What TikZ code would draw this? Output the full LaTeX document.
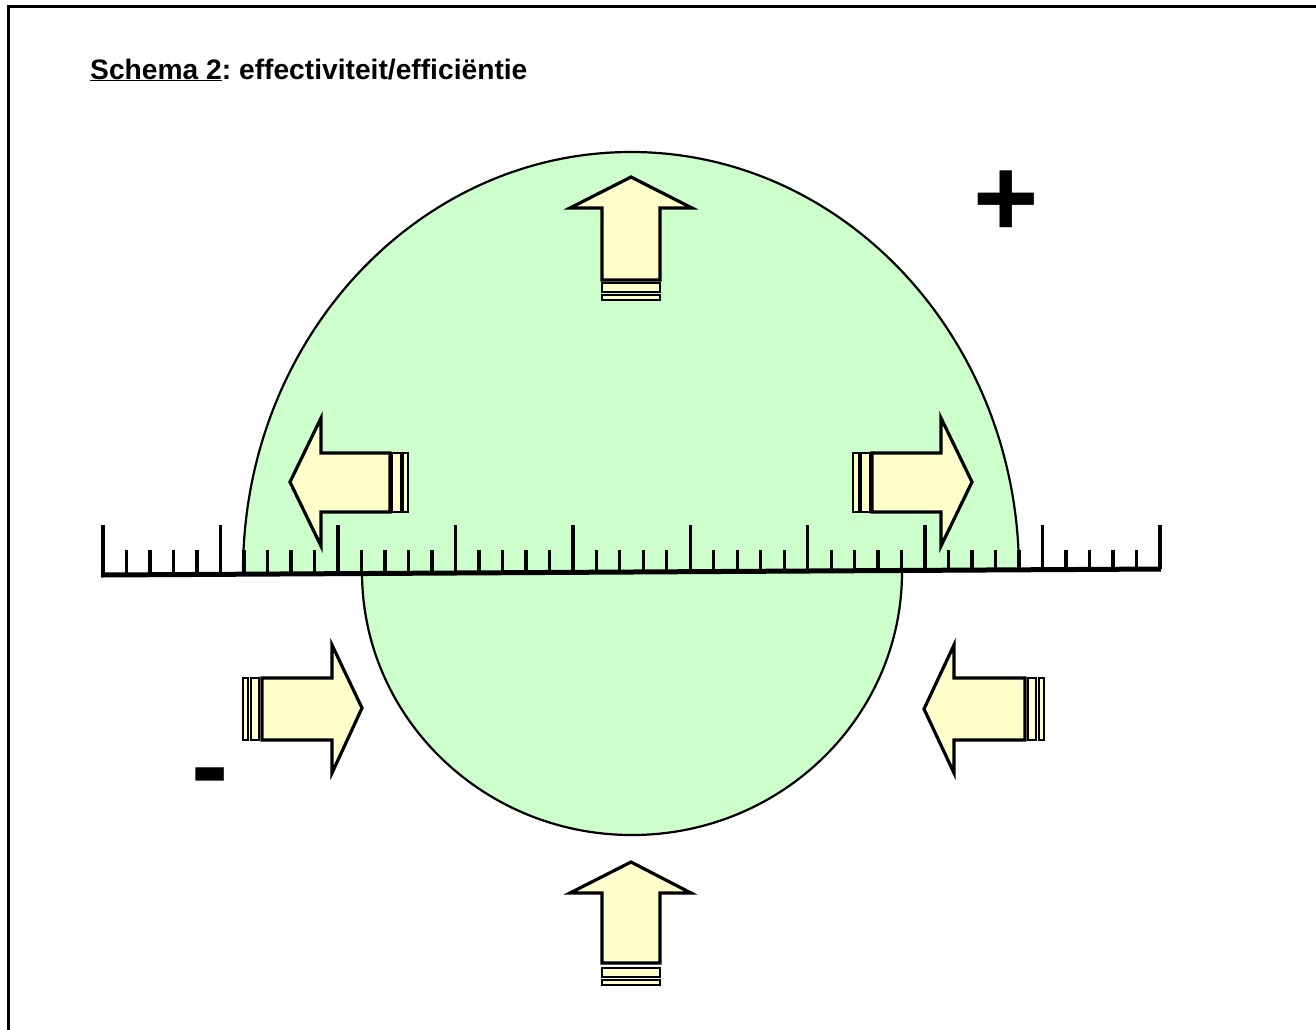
\documentclass[tikz,border=0pt]{standalone}
\usepackage{fontspec}
\setmainfont[Ligatures=NoCommon]{Liberation Sans}
\definecolor{shapegreen}{HTML}{CCFFCC}
\definecolor{arrowyellow}{HTML}{FFFFCC}
\frenchspacing
\begin{document}
\begin{tikzpicture}[x=1pt,y=-1pt,
  arrowbody/.style={fill=arrowyellow, draw=black, line width=3.2pt, line join=miter},
  arrowbar/.style={fill=arrowyellow, draw=black, line width=2pt},
  tick/.style={line width=3.4pt},
  sign/.style={inner sep=0pt, font=\fontsize{112}{112}\selectfont\bfseries}]
\useasboundingbox (0,0) rectangle (1316,1029);
\fill[white] (0,0) rectangle (1316,1029);
% frame
\draw[line width=3pt] (8,1040) -- (8,6) -- (1330,6);
% title
\node[anchor=base west, inner sep=0pt, font=\fontsize{28.2}{34}\selectfont\bfseries] (title) at (90,79) {\underline{Schema 2}: effectiviteit/efficiëntie};
% shapes
\fill[shapegreen] (243,572) arc[start angle=180, end angle=360, x radius=388, y radius=420] -- cycle;
\draw[line width=2.2pt] (243,572) arc[start angle=180, end angle=360, x radius=388, y radius=420];
\fill[shapegreen] (362,572) arc[start angle=180, end angle=0, x radius=270, y radius=263] -- cycle;
\draw[line width=2.2pt] (362,572) arc[start angle=180, end angle=0, x radius=270, y radius=263];
% ruler
\draw[line width=5pt] (101,575) -- (1161,569);
\foreach \i in {0,...,45}{
  \pgfmathsetmacro{\xx}{103+23.49*\i}
  \pgfmathsetmacro{\yb}{575-6*(\xx-103)/1057}
  \pgfmathtruncatemacro{\m}{mod(\i,5)}
  \ifnum\m=0
    \draw[tick] (\xx,525) -- (\xx,\yb);
  \else
    \draw[tick] (\xx,550) -- (\xx,\yb);
  \fi
}
% top arrow
\draw[arrowbody] (631,177) -- (692,208) -- (660,208) -- (660,280) -- (602,280) -- (602,208) -- (570,208) -- cycle;
\draw[arrowbar] (602,283) rectangle (660,292);
\draw[arrowbar] (602,295) rectangle (660,300);
% bottom arrow
\draw[arrowbody] (631,862) -- (691,893) -- (660,893) -- (660,963) -- (602,963) -- (602,893) -- (570,893) -- cycle;
\draw[arrowbar] (602,968) rectangle (660,977);
\draw[arrowbar] (602,980) rectangle (660,985);
% upper left arrow
\draw[arrowbody] (290,482) -- (321,418) -- (321,453) -- (390,453) -- (390,512) -- (321,512) -- (321,546) -- cycle;
\draw[arrowbar] (392,453) rectangle (401,512);
\draw[arrowbar] (403,453) rectangle (408,512);
% upper right arrow
\draw[arrowbody] (972,482) -- (941,418) -- (941,453) -- (872,453) -- (872,512) -- (941,512) -- (941,546) -- cycle;
\draw[arrowbar] (861,453) rectangle (870,512);
\draw[arrowbar] (853,453) rectangle (859,512);
% lower left arrow
\draw[arrowbody] (362,708) -- (332,645) -- (332,678) -- (262,678) -- (262,740) -- (332,740) -- (332,773) -- cycle;
\draw[arrowbar] (251,678) rectangle (259,740);
\draw[arrowbar] (243,678) rectangle (248,740);
% lower right arrow
\draw[arrowbody] (924,709) -- (954,645) -- (954,678) -- (1025,678) -- (1025,740) -- (954,740) -- (954,773) -- cycle;
\draw[arrowbar] (1028,678) rectangle (1036,740);
\draw[arrowbar] (1039,678) rectangle (1044,740);
% signs
\node[sign, anchor=base] (plus) at (1006,236) {+};
\node[sign, anchor=base] (minus) at (210,803) {-};
\end{tikzpicture}
\end{document}
